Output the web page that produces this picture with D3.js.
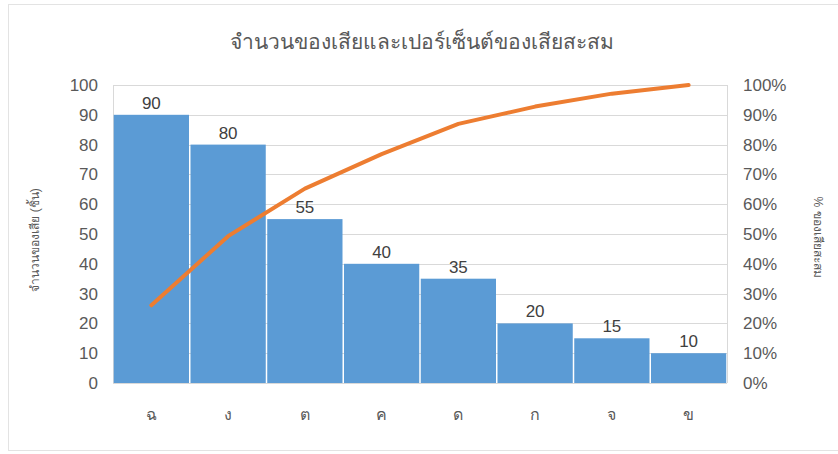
<!DOCTYPE html>
<html>
<head>
<meta charset="utf-8">
<script src="https://cdn.jsdelivr.net/npm/d3@7"></script>
<style>
  body { margin: 0; background: #fff; }
  text { font-family: "Liberation Sans", "Noto Sans", "DejaVu Sans", sans-serif; }
</style>
</head>
<body>
<svg id="chart" width="838" height="454"></svg>
<script>
// Defect counts per category, sorted descending (Pareto)
const categories = ["ฉ", "ง", "ต", "ค", "ด", "ก", "จ", "ข"];
const defects = [90, 80, 55, 40, 35, 20, 15, 10];
const leftTicks = [0, 10, 20, 30, 40, 50, 60, 70, 80, 90, 100];
const rightTicks = [0, 0.1, 0.2, 0.3, 0.4, 0.5, 0.6, 0.7, 0.8, 0.9, 1.0];

const titleText = "จำนวนของเสียและเปอร์เซ็นต์ของเสียสะสม";
const leftAxisTitle = "จำนวนของเสีย (ชิ้น)";
const rightAxisTitle = "% ของเสียสะสม";

const total = d3.sum(defects);
const cumulative = d3.cumsum(defects).map(v => v / total);

const svg = d3.select("#chart");
const W = 838, H = 454;
const plot = { left: 113, right: 727, top: 85, bottom: 383 };
const textColor = "#595959";
const gridColor = "#d9d9d9";

// outer frame
svg.append("rect")
  .attr("x", 8.5).attr("y", 4.5)
  .attr("width", W - 8).attr("height", 446)
  .attr("fill", "#fff").attr("stroke", "#e3e3e3");

const x = d3.scaleBand().domain(categories).range([plot.left, plot.right]).padding(0);
const y = d3.scaleLinear().domain([0, 100]).range([plot.bottom, plot.top]);
const yPct = d3.scaleLinear().domain([0, 1]).range([plot.bottom, plot.top]);

// gridlines
svg.append("g").selectAll("line").data(leftTicks).join("line")
  .attr("x1", plot.left).attr("x2", plot.right)
  .attr("y1", d => Math.round(y(d)) + 0.5).attr("y2", d => Math.round(y(d)) + 0.5)
  .attr("stroke", gridColor).attr("stroke-width", 1);
// plot edges
[plot.left, plot.right].forEach(px => {
  svg.append("line")
    .attr("x1", px + 0.5).attr("x2", px + 0.5)
    .attr("y1", plot.top).attr("y2", plot.bottom)
    .attr("stroke", gridColor);
});

// bars
svg.append("g").selectAll("rect").data(defects).join("rect")
  .attr("x", (d, i) => x(categories[i]) + 0.75)
  .attr("width", x.bandwidth() - 1.5)
  .attr("y", d => y(d))
  .attr("height", d => y(0) - y(d))
  .attr("fill", "#5b9bd5");

// bar value labels
svg.append("g").selectAll("text").data(defects).join("text")
  .attr("x", (d, i) => x(categories[i]) + x.bandwidth() / 2)
  .attr("y", d => y(d) - 6)
  .attr("text-anchor", "middle")
  .attr("font-size", 17)
  .attr("fill", "#404040")
  .text(d => d);

// cumulative percentage line
const line = d3.line()
  .x((d, i) => x(categories[i]) + x.bandwidth() / 2)
  .y(d => yPct(d));
svg.append("path")
  .datum(cumulative)
  .attr("d", line)
  .attr("fill", "none")
  .attr("stroke", "#ed7d31")
  .attr("stroke-width", 4)
  .attr("stroke-linejoin", "round")
  .attr("stroke-linecap", "round");

// left axis
const leftAxis = d3.axisLeft(y).tickValues(leftTicks).tickSize(0).tickPadding(15);
const gL = svg.append("g").attr("transform", `translate(${plot.left},0)`).call(leftAxis);
gL.select(".domain").remove();
gL.selectAll("text").attr("font-size", 17).attr("fill", textColor)
  .style("font-family", "'Liberation Sans', 'Noto Sans', sans-serif");

// right axis
const rightAxis = d3.axisRight(yPct).tickValues(rightTicks).tickSize(0).tickPadding(16)
  .tickFormat(d3.format(".0%"));
const gR = svg.append("g").attr("transform", `translate(${plot.right},0)`).call(rightAxis);
gR.select(".domain").remove();
gR.selectAll("text").attr("font-size", 17).attr("fill", textColor)
  .style("font-family", "'Liberation Sans', 'Noto Sans', sans-serif");

// category axis
const bottomAxis = d3.axisBottom(x).tickSize(0).tickPadding(26);
const gB = svg.append("g").attr("transform", `translate(0,${plot.bottom})`).call(bottomAxis);
gB.select(".domain").remove();
gB.selectAll("text").attr("font-size", 16).attr("fill", textColor)
  .style("font-family", "'Noto Sans', 'DejaVu Sans', sans-serif");

// title
svg.append("text")
  .attr("x", 422).attr("y", 49)
  .attr("text-anchor", "middle")
  .attr("font-size", 21)
  .attr("fill", textColor)
  .text(titleText);

// axis titles
svg.append("text")
  .attr("transform", `translate(39,${(plot.top + plot.bottom) / 2 + 6}) rotate(-90)`)
  .attr("text-anchor", "middle")
  .attr("font-size", 12)
  .attr("fill", textColor)
  .text(leftAxisTitle);

svg.append("text")
  .attr("transform", `translate(814,${(plot.top + plot.bottom) / 2 + 3}) rotate(90)`)
  .attr("text-anchor", "middle")
  .attr("font-size", 12)
  .attr("fill", textColor)
  .text(rightAxisTitle);
</script>
</body>
</html>
